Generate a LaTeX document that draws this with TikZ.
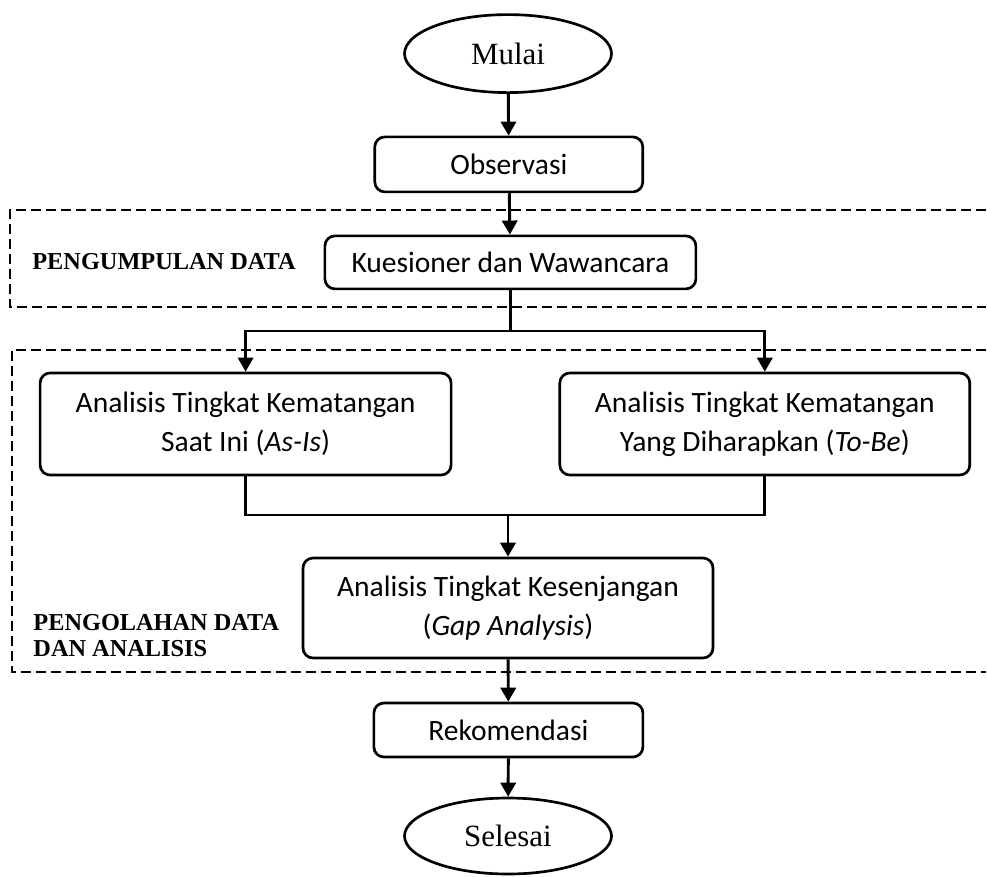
\documentclass[tikz,border=0pt]{standalone}
\usepackage{fontspec}
\setmainfont{Liberation Serif}
\newfontfamily\boxfont{Carlito}
\usetikzlibrary{arrows.meta,shapes.geometric}

\begin{document}
\begin{tikzpicture}[
  box/.style={draw=black,line width=1.9pt,rounded corners=2.5mm,
    align=center,inner sep=2pt,
    font=\boxfont\fontsize{21}{28}\selectfont},
  terminal/.style={draw=black,line width=1.9pt,ellipse,inner sep=0pt,
    minimum width=5.175cm,minimum height=1.95cm,
    font=\fontsize{22}{26}\selectfont},
  flow/.style={-{Triangle[length=3.5mm,width=3.8mm]},
    draw=black,line width=2.1pt},
  link/.style={draw=black,line width=2.1pt},
  group/.style={draw=black,line width=2.1pt,dash pattern=on 2.5mm off 1.25mm},
  grouplabel/.style={font=\bfseries\fontsize{17.3}{19}\selectfont,
    align=left,inner sep=0pt}]
\useasboundingbox (0,0) rectangle (24.675,-21.9);

\node[terminal] (start) at (12.7,-1.34) {Mulai};
\node[box,minimum width=6.7cm,minimum height=1.375cm] (obs) at (12.72,-4.11) {Observasi};
\node[box,minimum width=9.275cm,minimum height=1.325cm] (kues) at (12.76,-6.56) {Kuesioner dan Wawancara};
\node[box,minimum width=10.275cm,minimum height=2.55cm] (asis) at (6.14,-10.6)
  {Analisis Tingkat Kematangan\\Saat Ini (\textit{As-Is})};
\node[box,minimum width=10.25cm,minimum height=2.55cm] (tobe) at (19.12,-10.6)
  {Analisis Tingkat Kematangan\\Yang Diharapkan (\textit{To-Be})};
\node[box,minimum width=10.25cm,minimum height=2.5cm] (gap) at (12.7,-15.2)
  {Analisis Tingkat Kesenjangan\\(\textit{Gap Analysis})};
\node[box,minimum width=6.725cm,minimum height=1.35cm] (rek) at (12.71,-18.25) {Rekomendasi};
\node[terminal,minimum height=1.9cm] (finish) at (12.7,-20.9) {Selesai};

% dashed groups, open on the right
\draw[group] (24.65,-5.25)--(0.25,-5.25)--(0.25,-7.675)--(24.65,-7.675);
\draw[group] (24.65,-8.75)--(0.3,-8.75)--(0.3,-16.8)--(24.65,-16.8);
\node[grouplabel] (collect) at (4.1,-6.55) {PENGUMPULAN DATA};
\node[grouplabel,anchor=west] (process) at (0.83,-15.89) {PENGOLAHAN DATA\\DAN ANALISIS};

\coordinate (split) at (kues.south |- 0,-8.275);
\coordinate (merge) at (gap.north |- 0,-12.875);

\draw[flow] (start)--(obs);
\draw[flow] (obs)--(kues);
\draw[link] (kues.south)--(split);
\draw[flow] (split)-|(asis.north);
\draw[flow] (split)-|(tobe.north);
\draw[link] (asis.south)|-(merge)-|(tobe.south);
\draw[flow] (merge)--(gap.north);
\draw[flow] (gap)--(rek);
\draw[flow] (rek)--(finish);
\end{tikzpicture}
\end{document}
